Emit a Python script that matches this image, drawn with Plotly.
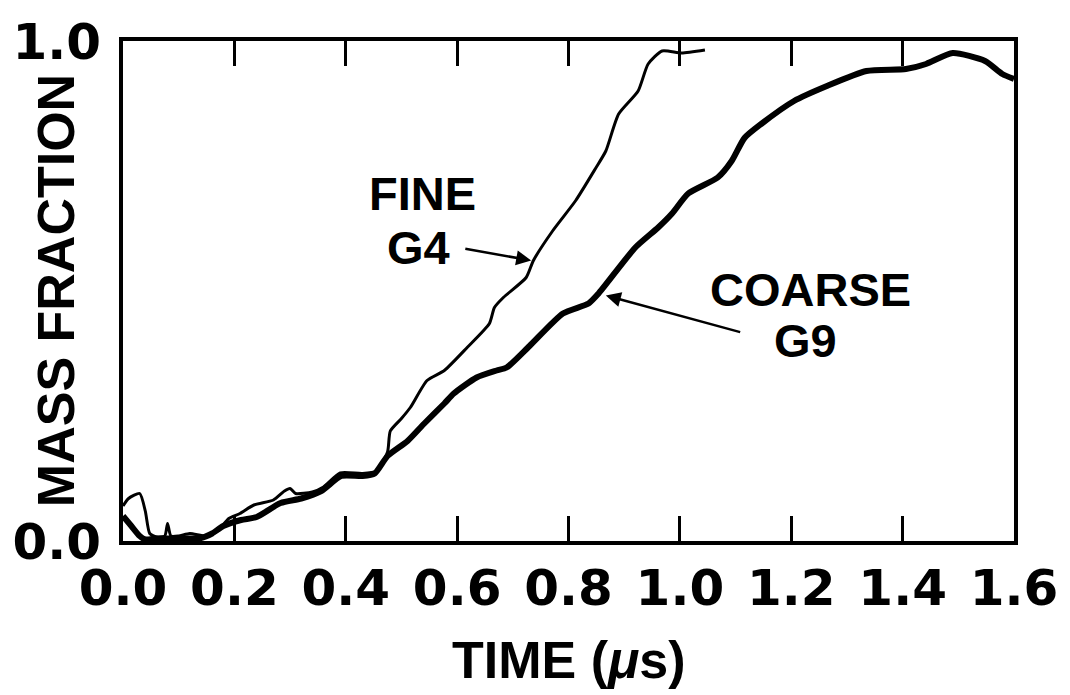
import plotly.graph_objects as go

# FINE (G4) curve: time (us), mass fraction
fine_t = [0.0, 0.01, 0.03, 0.04, 0.048, 0.06, 0.075, 0.08, 0.086, 0.1, 0.12, 0.15,
          0.17, 0.19, 0.21, 0.235, 0.27, 0.29, 0.3, 0.31, 0.34, 0.36, 0.39, 0.43,
          0.455, 0.475, 0.48, 0.5, 0.516, 0.546, 0.577, 0.618, 0.658, 0.667, 0.683,
          0.724, 0.737, 0.772, 0.813, 0.849, 0.867, 0.89, 0.925, 0.943, 0.968,
          1.003, 1.045]
fine_v = [0.07, 0.085, 0.095, 0.06, 0.015, 0.008, 0.01, 0.035, 0.01, 0.01, 0.015, 0.01,
          0.02, 0.045, 0.055, 0.072, 0.082, 0.1, 0.105, 0.095, 0.098, 0.108, 0.136, 0.135,
          0.14, 0.178, 0.22, 0.245, 0.267, 0.321, 0.341, 0.387, 0.435, 0.467, 0.487,
          0.527, 0.561, 0.621, 0.681, 0.746, 0.78, 0.854, 0.9, 0.954, 0.98,
          0.976, 0.982]

# COARSE (G9) curve
coarse_t = [0.0, 0.015, 0.03, 0.04, 0.06, 0.1, 0.14, 0.16, 0.18, 0.212, 0.24, 0.283,
            0.32, 0.356, 0.392, 0.43, 0.452, 0.475, 0.511, 0.541, 0.577, 0.594, 0.635,
            0.671, 0.689, 0.73, 0.79, 0.836, 0.854, 0.92, 0.961, 0.986, 1.015, 1.068,
            1.093, 1.116, 1.146, 1.205, 1.264, 1.335, 1.406, 1.442, 1.49, 1.548,
            1.579, 1.6]
coarse_v = [0.05, 0.03, 0.01, 0.003, 0.005, 0.005, 0.006, 0.015, 0.03, 0.042, 0.048, 0.076,
            0.085, 0.1, 0.13, 0.13, 0.135, 0.17, 0.2, 0.235, 0.275, 0.295, 0.327,
            0.341, 0.347, 0.39, 0.455, 0.475, 0.495, 0.587, 0.627, 0.655, 0.695, 0.727,
            0.76, 0.806, 0.834, 0.88, 0.91, 0.94, 0.944, 0.954, 0.976, 0.96,
            0.934, 0.924]

x_ticks = [0.0, 0.2, 0.4, 0.6, 0.8, 1.0, 1.2, 1.4, 1.6]
x_tick_text = ["0.0", "0.2", "0.4", "0.6", "0.8", "1.0", "1.2", "1.4", "1.6"]
y_ticks = [0.0, 1.0]
y_tick_text = ["0.0", "1.0"]

FONT = "DejaVu Sans"
LFONT = "Liberation Sans"

fig = go.Figure()
fig.add_trace(go.Scatter(x=fine_t, y=fine_v, mode="lines", name="FINE G4",
                         line=dict(color="black", width=3, shape="spline", smoothing=0.6)))
fig.add_trace(go.Scatter(x=coarse_t, y=coarse_v, mode="lines", name="COARSE G9",
                         line=dict(color="black", width=6, shape="spline", smoothing=0.6)))

tick_font = dict(family=FONT, size=50, color="black", weight="bold")

fig.update_layout(
    width=1070, height=695,
    margin=dict(l=123, r=48, t=40, b=154),
    paper_bgcolor="white", plot_bgcolor="white",
    showlegend=False,
    xaxis=dict(range=[0, 1.6], tickvals=x_ticks, ticktext=x_tick_text,
               ticks="inside", ticklen=25, tickwidth=3, tickcolor="black",
               showline=True, linewidth=4, linecolor="black", mirror="allticks",
               showgrid=False, zeroline=False, tickfont=tick_font),
    yaxis=dict(range=[0, 1.0], tickvals=y_ticks, ticktext=y_tick_text,
               ticks="", showline=True, linewidth=4, linecolor="black", mirror=True,
               showgrid=False, zeroline=False, tickfont=tick_font,
               ticklabelstandoff=8),
)

ann_font = dict(family=LFONT, size=47, color="black", weight="bold")
fig.add_annotation(x=0.537, y=0.695, text="FINE", showarrow=False, font=ann_font)
fig.add_annotation(x=0.53, y=0.587, text="G4", showarrow=False, font=ann_font)
fig.add_annotation(x=1.235, y=0.503, text="COARSE", showarrow=False, font=ann_font)
fig.add_annotation(x=1.226, y=0.401, text="G9", showarrow=False, font=ann_font)

# arrows
fig.add_annotation(x=0.733, y=0.561, ax=0.612, ay=0.585, axref="x", ayref="y",
                   text="", showarrow=True, arrowhead=2, arrowsize=1.2, arrowwidth=2.5,
                   arrowcolor="black")
fig.add_annotation(x=0.867, y=0.491, ax=1.111, ay=0.417, axref="x", ayref="y",
                   text="", showarrow=True, arrowhead=2, arrowsize=1.2, arrowwidth=2.5,
                   arrowcolor="black")

# axis titles
fig.add_annotation(xref="paper", yref="paper", x=-0.075, y=0.5, text="MASS FRACTION",
                   textangle=-90, showarrow=False, xanchor="center", yanchor="middle",
                   font=dict(family=LFONT, size=52, color="black", weight="bold"))
fig.add_annotation(xref="paper", yref="paper", x=0.5, y=-0.2375, text="TIME (<i>μ</i>s)",
                   showarrow=False, xanchor="center", yanchor="middle",
                   font=dict(family=LFONT, size=52, color="black", weight="bold"))

fig.write_html("out.html")
